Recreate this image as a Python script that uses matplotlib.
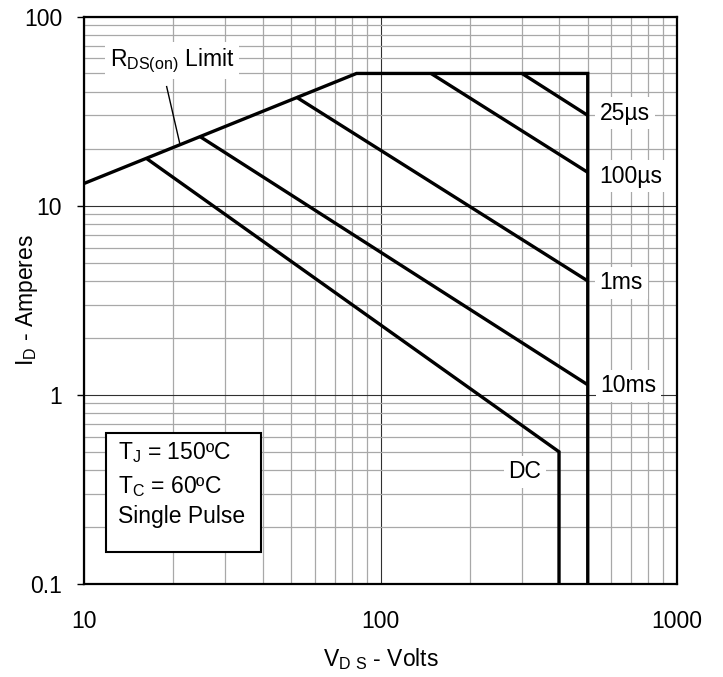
import matplotlib
matplotlib.use('Agg')
import matplotlib.pyplot as plt
from matplotlib.patches import Rectangle

plt.rcParams['font.family'] = ['Liberation Sans', 'DejaVu Sans']
plt.rcParams['mathtext.fontset'] = 'custom'
plt.rcParams['mathtext.rm'] = 'Liberation Sans'
plt.rcParams['mathtext.default'] = 'regular'

# safe operating area curves
limit_v = [10, 83, 500, 500]
limit_i = [13.1, 50, 50, 0.1]

t25us_v = [300, 500]
t25us_i = [50, 30]

t100us_v = [148, 500]
t100us_i = [50, 15]

t1ms_v = [52, 500]
t1ms_i = [37.5, 4.0]

t10ms_v = [24.6, 500]
t10ms_i = [23.2, 1.13]

dc_v = [16.3, 400, 400]
dc_i = [17.7, 0.5, 0.1]

x_ticks = [10, 100, 1000]
x_tick_labels = ['10', '100', '1000']
y_ticks = [0.1, 1, 10, 100]
y_tick_labels = ['0.1', '1', '10', '100']

fig = plt.figure(figsize=(7.23, 6.77), dpi=100)
ax = fig.add_axes([84 / 723, 93 / 677, 593 / 723, 567.5 / 677])
ax.set_xscale('log')
ax.set_yscale('log')
ax.set_xlim(10, 1000)
ax.set_ylim(0.1, 100)

ax.grid(True, which='minor', color='#a8a8a8', lw=0.9, zorder=0)
ax.grid(True, which='major', color='#303030', lw=0.8, zorder=0)
ax.set_axisbelow(True)

lw = 2.4
for v, i in [(limit_v, limit_i), (t25us_v, t25us_i), (t100us_v, t100us_i),
             (t1ms_v, t1ms_i), (t10ms_v, t10ms_i), (dc_v, dc_i)]:
    ax.plot(v, i, color='black', lw=lw, solid_joinstyle='miter',
            solid_capstyle='butt', zorder=4)

ax.set_xticks(x_ticks, x_tick_labels)
ax.set_yticks(y_ticks, y_tick_labels)
ax.tick_params(axis='x', which='both', length=0, pad=19, labelsize=16.5)
ax.tick_params(axis='y', which='major', length=5.3, width=1, pad=10.5,
               labelsize=16.5, direction='out')
ax.tick_params(axis='y', which='minor', length=0)
for s in ax.spines.values():
    s.set_linewidth(1.6)
    s.set_zorder(5)

ax.set_xlabel('V$_{D\\ S}$ - Volts', fontsize=16.5, va='baseline')
ax.xaxis.set_label_coords(0.5, -0.1445)
ax.set_ylabel('I$_{D}$ - Amperes', fontsize=16.5, va='baseline')
ax.yaxis.set_label_coords(-0.086, 0.5)

box = dict(boxstyle='square,pad=0.2', fc='white', ec='none')
ax.text(12.2, 55, 'R$_{DS(on)}$ Limit', fontsize=16.5, ha='left',
        va='baseline', bbox=box, zorder=3)
ax.plot([19.0, 21.1], [42.6, 20.9], color='black', lw=1.0, zorder=4)

ax.text(550, 28.4, '25µs', fontsize=16.5, va='baseline', bbox=box, zorder=3)
ax.text(548, 13.2, '100µs', fontsize=16.5, va='baseline', bbox=box, zorder=3)
ax.text(548, 3.61, '1ms', fontsize=16.5, va='baseline', bbox=box, zorder=3)
ax.text(552, 1.03, '10ms', fontsize=16.5, va='baseline', bbox=box, zorder=3)
ax.text(270, 0.362, 'DC', fontsize=16.5, va='baseline', bbox=box, zorder=3)

# conditions box
ax.add_patch(Rectangle((0.0366, 0.0559), 0.2614, 0.2107, transform=ax.transAxes,
                       fc='white', ec='black', lw=1.5, zorder=3))
ax.text(0.0573, 0.2203, 'T$_J$ = 150ºC', transform=ax.transAxes,
        fontsize=16.5, va='baseline', zorder=4)
ax.text(0.0573, 0.1609, 'T$_C$ = 60ºC', transform=ax.transAxes,
        fontsize=16.5, va='baseline', zorder=4)
ax.text(0.0573, 0.1080, 'Single Pulse', transform=ax.transAxes,
        fontsize=16.5, va='baseline', zorder=4)

plt.savefig('out.png', dpi=100)
